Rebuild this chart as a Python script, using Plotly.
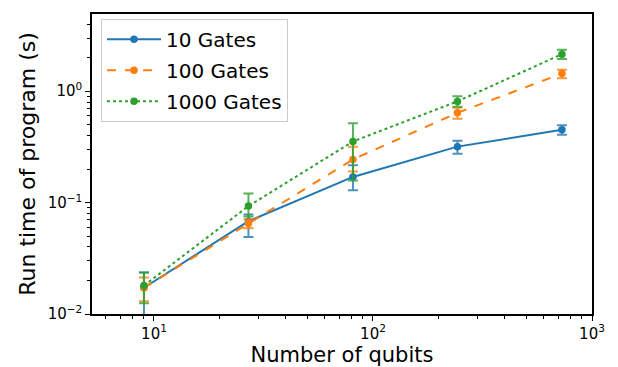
import plotly.graph_objects as go

qubits = [9, 27, 81, 243, 729]

gates10 = [0.0172, 0.068, 0.170, 0.318, 0.450]
gates10_lo = [0.0098, 0.049, 0.129, 0.274, 0.406]
gates10_hi = [0.0236, 0.078, 0.216, 0.360, 0.495]

gates100 = [0.0172, 0.065, 0.244, 0.640, 1.44]
gates100_lo = [0.0130, 0.059, 0.190, 0.567, 1.31]
gates100_hi = [0.0213, 0.071, 0.318, 0.710, 1.56]

gates1000 = [0.0180, 0.093, 0.354, 0.810, 2.15]
gates1000_lo = [0.0125, 0.075, 0.158, 0.725, 1.95]
gates1000_hi = [0.0236, 0.121, 0.516, 0.900, 2.35]

series_names = ["10 Gates", "100 Gates", "1000 Gates"]

x_tickvals = [10, 100, 1000]
x_ticktext = ["10<sup>1</sup>", "10<sup>2</sup>", "10<sup>3</sup>"]
y_tickvals = [0.01, 0.1, 1]
y_ticktext = ["10<sup>\u22122</sup>", "10<sup>\u22121</sup>", "10<sup>0</sup>"]

colors = ["#1f77b4", "#ff7f0e", "#2ca02c"]
err_colors = ["rgba(31,119,180,0.8)", "rgba(255,127,14,0.8)", "rgba(44,160,44,0.8)"]
dashes = ["solid", "dash", "dot"]

fig = go.Figure()
for name, vals, lo, hi, c, ec, d in zip(
    series_names,
    [gates10, gates100, gates1000],
    [gates10_lo, gates100_lo, gates1000_lo],
    [gates10_hi, gates100_hi, gates1000_hi],
    colors, err_colors, dashes,
):
    fig.add_trace(go.Scatter(
        x=qubits, y=vals, name=name, mode="lines+markers",
        legendgroup=name,
        line=dict(color=c, width=2, dash=d),
        marker=dict(color=c, size=7.5),
        error_y=dict(type="data", symmetric=False,
                     array=[h - v for h, v in zip(hi, vals)],
                     arrayminus=[v - l for v, l in zip(vals, lo)],
                     color=ec, thickness=2, width=5),
    ))

x_minor = [m * 10 ** e for e in range(0, 3) for m in range(2, 10) if 5 <= m * 10 ** e <= 1000]
y_minor = [m * 10 ** e for e in range(-2, 1) for m in range(2, 10) if m * 10 ** e <= 5]

axis_common = dict(
    showline=True, linecolor="black", linewidth=1.5, mirror=True,
    showgrid=False, zeroline=False, ticks="outside", ticklen=5, tickwidth=1,
    tickcolor="black", tickfont=dict(size=15, color="black"),
)

fig.update_xaxes(type="log", range=[0.717, 3.0], tickvals=x_tickvals, ticktext=x_ticktext,
                 title=dict(text="Number of qubits", font=dict(size=21, color="black"), standoff=6),
                 minor=dict(tickvals=x_minor, ticks="outside", ticklen=3, tickwidth=0.8, tickcolor="black"),
                 **axis_common)
fig.update_yaxes(type="log", range=[-2.0, 0.693], tickvals=y_tickvals, ticktext=y_ticktext,
                 title=dict(text="Run time of program (s)", font=dict(size=22, color="black"), standoff=6),
                 minor=dict(tickvals=y_minor, ticks="outside", ticklen=3, tickwidth=0.8, tickcolor="black"),
                 **axis_common)

# page has an 8px body margin, so the figure is drawn 8px in from the top-left
fig.update_layout(
    width=610, height=359,
    margin=dict(l=84, r=26, t=4, b=52),
    paper_bgcolor="white", plot_bgcolor="white",
    font=dict(family="DejaVu Sans", color="black"),
    legend=dict(x=0.018, y=0.984, xanchor="left", yanchor="top",
                bgcolor="rgba(255,255,255,0.8)", bordercolor="#cccccc", borderwidth=1,
                font=dict(size=20), tracegroupgap=2, itemwidth=54),
    showlegend=True,
)

fig.write_html("out.html")
